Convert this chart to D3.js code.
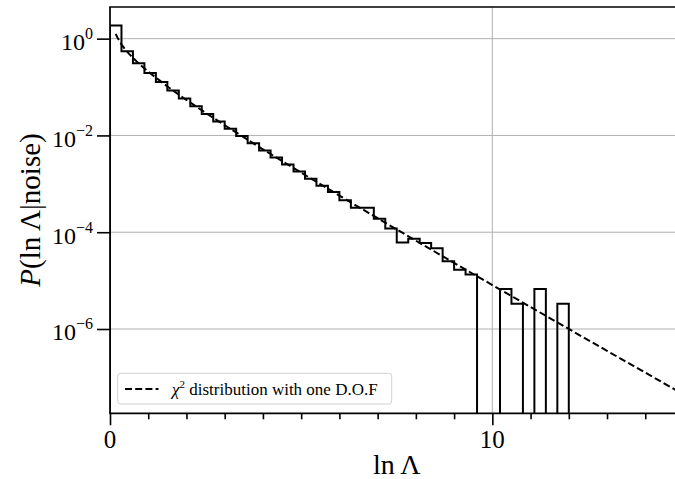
<!DOCTYPE html>
<html>
<head>
<meta charset="utf-8">
<script src="https://cdn.jsdelivr.net/npm/d3@7"></script>
<style>
  html, body { margin: 0; padding: 0; background: #fff; }
  svg { display: block; }
  text { font-family: "Liberation Serif", "Times New Roman", serif; fill: #000; }
</style>
</head>
<body>
<svg id="chart" width="675" height="479"></svg>
<script>
// Histogram of ln Λ under noise: 40 bins of width 0.3 from 0 to 12 (density)
const binEdgeStart = 0;
const binWidth = 0.3;
const binDensity = [
  1.871, 0.551, 0.312, 0.195, 0.127, 0.0849, 0.0579, 0.0399, 0.0277, 0.0194,
  0.0137, 0.0097, 0.0069, 0.00489, 0.00351, 0.00251, 0.00180, 0.00127, 9.1e-4, 6.8e-4,
  4.6e-4, 3.2e-4, 3.2e-4, 1.9e-4, 1.2e-4, 6.1e-5, 7.3e-5, 6.0e-5, 4.67e-5, 2.5e-5,
  1.67e-5, 1.33e-5, 0, 0, 6.67e-6, 3.33e-6, 0, 6.67e-6, 0, 3.33e-6
];

// Reference χ² (one degree of freedom) curve, sampled along ln Λ
const curveX = [0.15, 0.2, 0.3, 0.4, 0.5, 0.75, 1, 1.5, 2, 2.5, 3, 4, 5, 6, 7, 8, 9, 10, 11, 12, 13, 14, 15];
const curveY = [1.254, 1.033, 0.763, 0.598, 0.484, 0.308, 0.2076, 0.1028, 0.0540, 0.02929, 0.01622,
  5.167e-3, 1.700e-3, 5.710e-4, 1.945e-4, 6.691e-5, 2.321e-5, 8.10e-6, 2.841e-6, 1.001e-6,
  3.537e-7, 1.254e-7, 4.456e-8];

// Axis ticks
const yMajorTicks = [1, 1e-2, 1e-4, 1e-6];
const yTickExponents = ["0", "\u22122", "\u22124", "\u22126"];
const xMajorTicks = [0, 10];
const xTickLabels = ["0", "10"];
const xMinorTicks = [1, 2, 3, 4, 5, 6, 7, 8, 9, 11, 12, 13, 14];

const legendLabel = " distribution with one D.O.F";

const svg = d3.select("#chart");
const plotLeft = 110, plotRight = 683.5, plotTop = 7, plotBottom = 413.3;

const x = d3.scaleLinear().domain([0, 15]).range([plotLeft, plotRight]);
const y = d3.scaleLog().domain([Math.pow(10, -7.742), Math.pow(10, 0.654)]).range([plotBottom, plotTop]);

svg.append("defs").append("clipPath").attr("id", "plotclip")
  .append("rect").attr("x", plotLeft).attr("y", plotTop)
  .attr("width", plotRight - plotLeft).attr("height", plotBottom - plotTop);

// grid
const grid = svg.append("g").attr("clip-path", "url(#plotclip)");
grid.selectAll("line.gy").data(yMajorTicks).join("line")
  .attr("x1", plotLeft).attr("x2", plotRight)
  .attr("y1", d => y(d)).attr("y2", d => y(d))
  .attr("stroke", "#b0b0b0").attr("stroke-width", 1);
grid.selectAll("line.gx").data(xMajorTicks).join("line")
  .attr("y1", plotTop).attr("y2", plotBottom)
  .attr("x1", d => x(d)).attr("x2", d => x(d))
  .attr("stroke", "#b0b0b0").attr("stroke-width", 1);

// histogram as a step outline
const floorVal = 1e-12;
const pts = [[binEdgeStart, floorVal]];
binDensity.forEach((v, i) => pts.push([binEdgeStart + i * binWidth, v > 0 ? v : floorVal]));
const lastEdge = binEdgeStart + binDensity.length * binWidth;
pts.push([lastEdge, binDensity[binDensity.length - 1] || floorVal]);
pts.push([lastEdge, floorVal]);

const plot = svg.append("g").attr("clip-path", "url(#plotclip)");
plot.append("path")
  .attr("d", d3.line().x(d => x(d[0])).y(d => y(d[1])).curve(d3.curveStepAfter)(pts))
  .attr("fill", "none").attr("stroke", "#000").attr("stroke-width", 2)
  .attr("stroke-linejoin", "miter");

// χ² reference curve
plot.append("path")
  .attr("d", d3.line().x((d, i) => x(curveX[i])).y(d => y(d))(curveY))
  .attr("fill", "none").attr("stroke", "#000").attr("stroke-width", 2)
  .attr("stroke-dasharray", "7,3.2");

// axes
const yAxis = svg.append("g").attr("transform", `translate(${plotLeft},0)`)
  .call(d3.axisLeft(y).tickValues(yMajorTicks).tickFormat("").tickSize(13));
const xAxis = svg.append("g").attr("transform", `translate(0,${plotBottom})`)
  .call(d3.axisBottom(x).tickValues(xMajorTicks).tickFormat("").tickSize(12));
const xMinor = svg.append("g").attr("transform", `translate(0,${plotBottom})`)
  .call(d3.axisBottom(x).tickValues(xMinorTicks).tickFormat("").tickSize(6));
[yAxis, xAxis, xMinor].forEach(g => {
  g.select(".domain").remove();
  g.selectAll(".tick line").attr("stroke", "#000").attr("stroke-width", 1.6);
});

// spines
svg.append("path")
  .attr("d", `M${plotLeft},${plotBottom}V${plotTop}H${plotRight}V${plotBottom}Z`)
  .attr("fill", "none").attr("stroke", "#000").attr("stroke-width", 1.7);

// y tick labels with exponents
yMajorTicks.forEach((t, i) => {
  const tx = svg.append("text").attr("x", 93).attr("y", y(t) + 11.3)
    .attr("text-anchor", "end").attr("font-size", 24);
  tx.append("tspan").text("10");
  tx.append("tspan").attr("dy", -11).attr("font-size", 16).text(yTickExponents[i]);
});

// x tick labels
xMajorTicks.forEach((t, i) => {
  svg.append("text").attr("x", x(t)).attr("y", 448)
    .attr("text-anchor", "middle").attr("font-size", 25).text(xTickLabels[i]);
});

// axis labels
const xl = svg.append("text").attr("x", (plotLeft + plotRight) / 2).attr("y", 473.5)
  .attr("text-anchor", "middle").attr("font-size", 28);
xl.append("tspan").text("ln\u2009\u039b");

const yl = svg.append("text").attr("transform", "translate(40,210) rotate(-90)")
  .attr("text-anchor", "middle").attr("font-size", 29);
yl.append("tspan").attr("font-style", "italic").text("P");
yl.append("tspan").text("(ln\u2009\u039b|noise)");

// legend
const lg = svg.append("g");
lg.append("rect").attr("x", 117.7).attr("y", 373.3).attr("width", 274).attr("height", 30.7)
  .attr("rx", 3).attr("fill", "#fff").attr("fill-opacity", 0.8)
  .attr("stroke", "#d0d0d0").attr("stroke-width", 1);
lg.append("line").attr("x1", 125).attr("x2", 158.5).attr("y1", 389).attr("y2", 389)
  .attr("stroke", "#000").attr("stroke-width", 2).attr("stroke-dasharray", "7,3.2");
const lt = lg.append("text").attr("x", 172).attr("y", 395).attr("font-size", 17);
lt.append("tspan").attr("font-style", "italic").text("\u03c7");
lt.append("tspan").attr("dy", -7).attr("font-size", 11).text("2");
lt.append("tspan").attr("dy", 7).text(legendLabel);
</script>
</body>
</html>
